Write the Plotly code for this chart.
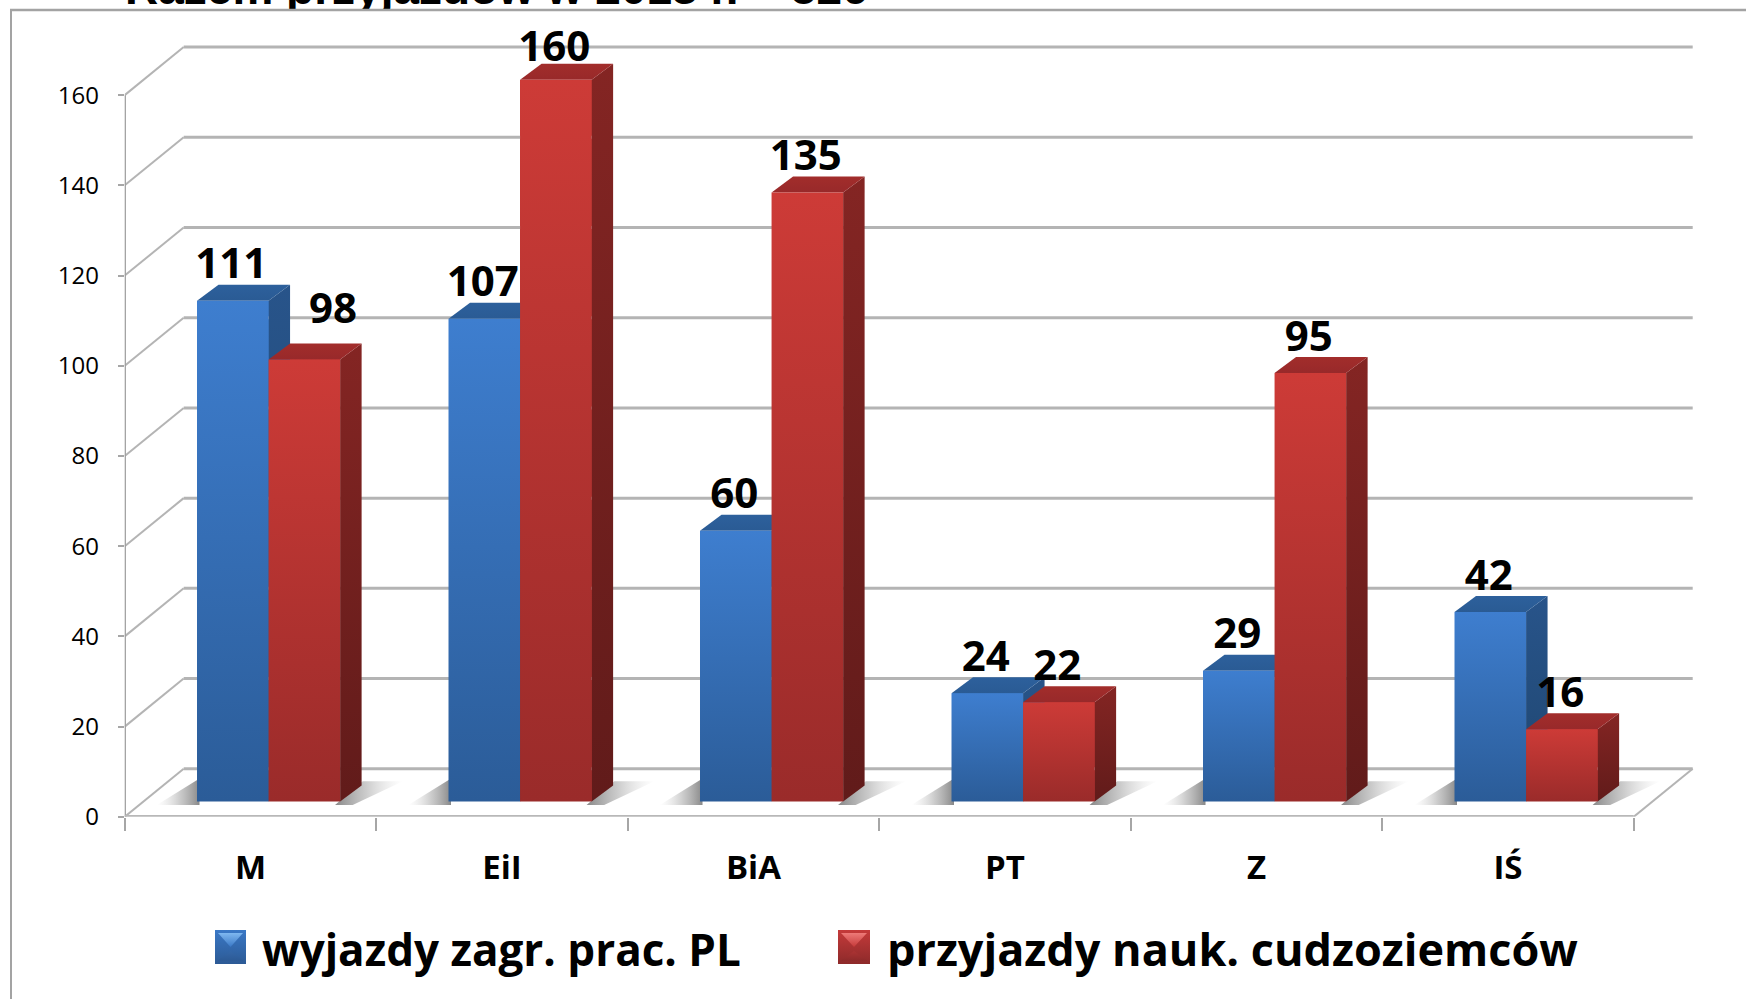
import plotly.graph_objects as go

categories = ["M", "EiI", "BiA", "PT", "Z", "IŚ"]
wyjazdy = [111, 107, 60, 24, 29, 42]
przyjazdy = [98, 160, 135, 22, 95, 16]
y_ticks = [0, 20, 40, 60, 80, 100, 120, 140, 160]
name_a = "wyjazdy zagr. prac. PL"
name_b = "przyjazdy nauk. cudzoziemców"
title_text = "Razem przyjazdów w 2013 r. = 526"

W, H = 1746, 999
X0, X1, Y0, Y1 = 124.7, 1695.0, 816.0, 36.0
PX_CAT, PX_VAL = 251.5, 4.506
xr = (X1 - X0) / PX_CAT
yr = (Y0 - Y1) / PX_VAL
WALL_DX, WALL_DY = 59 / PX_CAT, 48 / PX_VAL
BAR_L, BAR_W = 0.2875, 0.2845
DEP_X, DEP_Y = 21.5 / PX_CAT, 16 / PX_VAL
BASE = 3.4
GRID = "#b4b4b4"
FONT = "Open Sans"

BLUE = dict(face=("#2b5c98", "#3e7ecf"), side=("#1f4670", "#28548a"), top=("#2a5b94", "#2d609c"))
RED = dict(face=("#9a2b2a", "#cd3b37"), side=("#611b1a", "#842523"), top=("#98292a", "#a22d2b"))

fig = go.Figure()


def poly(xs, ys, low, high, orient="vertical", xaxis="x", yaxis="y", mid=None):
    scale = [[0, low], [1, high]] if mid is None else [[0, low], [mid[0], mid[1]], [1, high]]
    fig.add_trace(go.Scatter(
        x=xs + xs[:1], y=ys + ys[:1], mode="lines", fill="toself", line=dict(width=0),
        fillgradient=dict(type=orient, colorscale=scale),
        hoverinfo="skip", cliponaxis=False, xaxis=xaxis, yaxis=yaxis, showlegend=False))


def seg(xs, ys, width=3, color=GRID):
    fig.add_trace(go.Scatter(x=xs, y=ys, mode="lines", line=dict(color=color, width=width),
                             hoverinfo="skip", cliponaxis=False, showlegend=False))


centers = [i + BAR_L + BAR_W / 2 for i in range(len(categories))]
fig.add_trace(go.Bar(x=centers, y=wyjazdy, base=BASE, width=BAR_W, name=name_a, marker=dict(color="#3570b5", line_width=0)))
fig.add_trace(go.Bar(x=[c + BAR_W for c in centers], y=przyjazdy, base=BASE, width=BAR_W, name=name_b, marker=dict(color="#b53331", line_width=0)))

for v in y_ticks:
    seg([WALL_DX, 6 + WALL_DX], [v + WALL_DY] * 2)
    seg([0, WALL_DX], [v, v + WALL_DY], width=2)
seg([6, 6 + WALL_DX], [0, WALL_DY], width=2)
seg([0, 0], [y_ticks[0], y_ticks[-1]], width=2.5, color="#a0a0a0")
seg([0, 6], [0, 0], width=3.5, color="#b8b8b8")

SH_DARK, SH_MID, SH_CLEAR = "rgba(115,115,115,0.85)", "rgba(150,150,150,0.5)", "rgba(200,200,200,0)"
for i in range(len(categories)):
    l = i + BAR_L
    r = l + 2 * BAR_W
    poly([l - 0.16, l + 0.01, l + 0.01], [2.6, 2.6, 8.5], SH_CLEAR, SH_DARK, "horizontal", mid=(0.55, SH_MID))
    poly([r - 0.02, r + 0.05, r + 0.25, r + 0.09], [2.6, 2.6, 7.9, 7.9], SH_DARK, SH_CLEAR, "horizontal", mid=(0.45, SH_MID))

for k, (vals, col) in enumerate([(wyjazdy, BLUE), (przyjazdy, RED)]):
    for i, v in enumerate(vals):
        l = i + BAR_L + k * BAR_W
        r = l + BAR_W
        t = BASE + v
        poly([r, r + DEP_X, r + DEP_X, r], [BASE, BASE + DEP_Y, t + DEP_Y, t], *col["side"])
        poly([l, r, r + DEP_X, l + DEP_X], [t, t, t + DEP_Y, t + DEP_Y], *col["top"])
        poly([l, r, r, l], [BASE, BASE, t, t], *col["face"])

for k, vals in enumerate([wyjazdy, przyjazdy]):
    nudge_x = [0.0] * len(vals)
    nudge_y = [-0.9] * len(vals)
    if k == 1:
        nudge_x[0], nudge_y[0] = 0.12, 2.3   # "98" sits clear of the blue bar in the reference
        nudge_y[1] = -1.8                    # "160" sits closer to its bar
    fig.add_trace(go.Scatter(
        x=[i + BAR_L + k * BAR_W + BAR_W / 2 - 0.006 + nudge_x[i] for i in range(len(vals))],
        y=[BASE + v + DEP_Y + nudge_y[i] for i, v in enumerate(vals)],
        text=[str(v) for v in vals], mode="text", textposition="top center",
        textfont=dict(family=FONT, size=42, color="#000000", weight=700),
        hoverinfo="skip", cliponaxis=False, showlegend=False))


def swatch(x0, x1, y0, y1, c):
    xm, ym = (x0 + x1) / 2, (y0 + y1) / 2
    poly([x0, x1, x1, x0], [y0, y0, y1, y1], c[0], c[1], xaxis="x2", yaxis="y2")
    poly([x0 + 3, x1 - 3, xm], [y1 - 3, y1 - 3, ym], c[1], c[2], xaxis="x2", yaxis="y2")
    poly([x0 + 2, x1 - 2, xm], [y0 + 3, y0 + 3, ym - 4], c[0], c[3], xaxis="x2", yaxis="y2")


swatch(215, 246, 999 - 963, 999 - 929, ("#2c5a95", "#3a78c6", "#7fb8f0", "#3467a9"))
swatch(838, 870, 999 - 963, 999 - 929, ("#8d2a2a", "#c53a3a", "#ee7a78", "#ac3333"))
fig.add_trace(go.Scatter(x=[125], y=[999 - 15], text=[title_text], mode="text", textposition="top right",
                         textfont=dict(family="Liberation Sans", size=46, color="#000000", weight=700),
                         xaxis="x2", yaxis="y2", hoverinfo="skip", cliponaxis=False, showlegend=False))

annotations = [
    dict(x=260 / W, y=1 - 948 / H, xref="paper", yref="paper", text=name_a, showarrow=False,
         xanchor="left", yanchor="middle", font=dict(family=FONT, size=44, color="#000000", weight=700)),
    dict(x=885 / W, y=1 - 948 / H, xref="paper", yref="paper", text=name_b, showarrow=False,
         xanchor="left", yanchor="middle", font=dict(family=FONT, size=45, color="#000000", weight=700)),
]

shapes = [
    dict(type="rect", xref="paper", yref="paper", x0=0.0, x1=1, y0=1 - 16 / H, y1=1 - 10 / H,
         fillcolor="#ffffff", line_width=0, layer="above"),
    dict(type="line", xref="paper", yref="paper", x0=10 / W, x1=1, y0=1 - 10 / H, y1=1 - 10 / H,
         line=dict(color="#a3a3a3", width=2.5), layer="above"),
    dict(type="line", xref="paper", yref="paper", x0=11 / W, x1=11 / W, y0=0, y1=1 - 10 / H,
         line=dict(color="#a3a3a3", width=2), layer="above"),
]

fig.update_layout(
    width=W, height=H + 16, autosize=False, margin=dict(l=0, r=0, t=0, b=0, pad=0),
    paper_bgcolor="#ffffff", plot_bgcolor="rgba(0,0,0,0)", showlegend=False, barmode="overlay", bargap=0,
    annotations=annotations, shapes=shapes, hovermode=False,
    xaxis=dict(domain=[X0 / W, X1 / W], range=[0, xr], showgrid=False, zeroline=False, showline=False,
               tickmode="array", tickvals=[i + 0.5 for i in range(len(categories))], ticktext=categories,
               ticks="", ticklabelstandoff=28, tickfont=dict(family=FONT, size=33, color="#000000", weight=700),
               minor=dict(tickmode="array", tickvals=list(range(len(categories) + 1)), ticks="outside",
                          ticklen=13, tickwidth=2, tickcolor="#a6a6a6", showgrid=False)),
    yaxis=dict(domain=[1 - Y0 / H, 1 - Y1 / H], range=[0, yr], showgrid=False, zeroline=False,
               showline=False, tickmode="array", tickvals=y_ticks,
               ticks="outside", ticklen=6, tickwidth=2, tickcolor="#a6a6a6", ticklabelstandoff=14,
               tickfont=dict(family=FONT, size=24, color="#000000")),
    xaxis2=dict(domain=[0, 1], range=[0, W], visible=False, anchor="y2"),
    yaxis2=dict(domain=[0, 1], range=[0, H], visible=False, anchor="x2"),
)

post = """
document.body.style.margin='0';
document.body.style.overflow='hidden';
"""
fig.write_html("out.html", config=dict(displayModeBar=False), post_script=post)
